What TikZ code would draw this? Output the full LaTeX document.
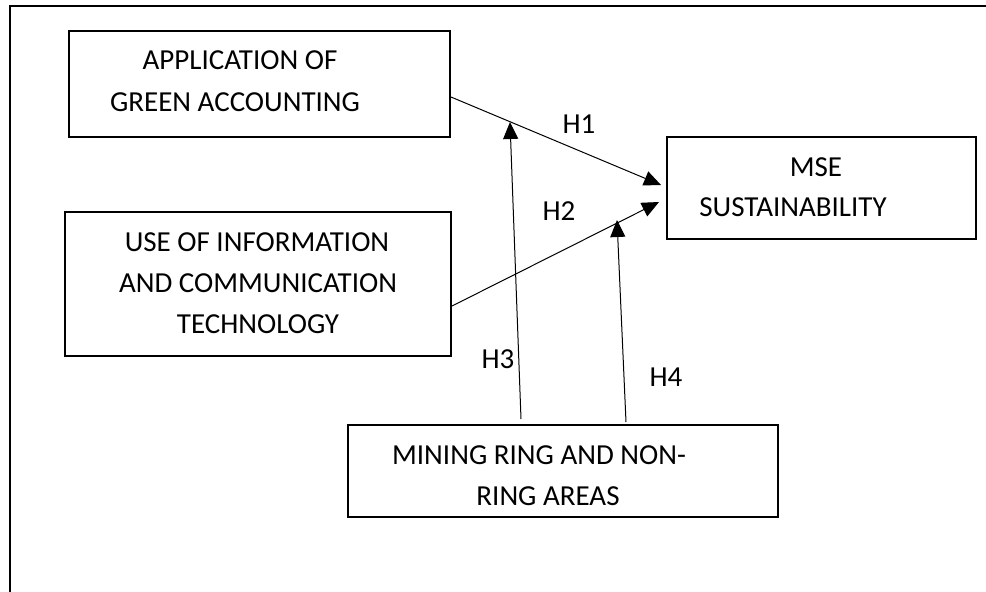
\documentclass[tikz,border=0pt]{standalone}
\usepackage{fontspec}
\setmainfont{Carlito}
\usetikzlibrary{arrows.meta}

\tikzset{
  box/.style={draw, line width=2pt, inner sep=0pt},
  txt/.style={anchor=base, inner sep=0pt, font=\fontsize{29}{34}\selectfont},
  arr/.style={-{Triangle[length=17pt, width=15pt]}, line width=1pt}
}

\begin{document}
\begin{tikzpicture}[x=1pt, y=-1pt]
\useasboundingbox (0,0) rectangle (986,592);

% frame
\draw[line width=1.8pt] (10,592) -- (10,6) -- (986,6);

% boxes
\node[box, minimum width=381pt, minimum height=106pt] (green) at (259.5,84) {};
\node[box, minimum width=386pt, minimum height=144pt] (ict) at (258,284) {};
\node[box, minimum width=309pt, minimum height=102pt] (mse) at (821.5,188) {};
\node[box, minimum width=430pt, minimum height=92pt] (ring) at (563,471) {};

% texts
\node[txt] (green1) at (240,69.5) {APPLICATION OF};
\node[txt] (green2) at (235,111) {GREEN ACCOUNTING};
\node[txt] (ict1) at (257,251.5) {USE OF INFORMATION};
\node[txt] (ict2) at (258,292.5) {AND COMMUNICATION};
\node[txt] (ict3) at (258,333) {TECHNOLOGY};
\node[txt] (mse1) at (816,176.5) {MSE};
\node[txt] (mse2) at (793,216.5) {SUSTAINABILITY};
\node[txt] (ring1) at (539,464) {MINING RING AND NON-};
\node[txt] (ring2) at (548,505) {RING AREAS};

% arrows
\draw[arr] ([yshift=-13pt]green.east) -- ([shift={(-5pt,3pt)}]mse.west);
\draw[arr] ([yshift=-22pt]ict.east) -- ([shift={(-7pt,-14pt)}]mse.west);

\coordinate (onh1) at (510,122);
\coordinate (onh2) at (617,220);
\draw[arr] ([shift={(-42pt,5pt)}]ring.north) -- (onh1);
\draw[arr] ([shift={(63pt,2pt)}]ring.north) -- (onh2);

\node[txt] (h1) at (579,133) {H1};
\node[txt] (h2) at (559,220) {H2};
\node[txt] (h3) at (498,368) {H3};
\node[txt] (h4) at (666,386) {H4};
\end{tikzpicture}
\end{document}
